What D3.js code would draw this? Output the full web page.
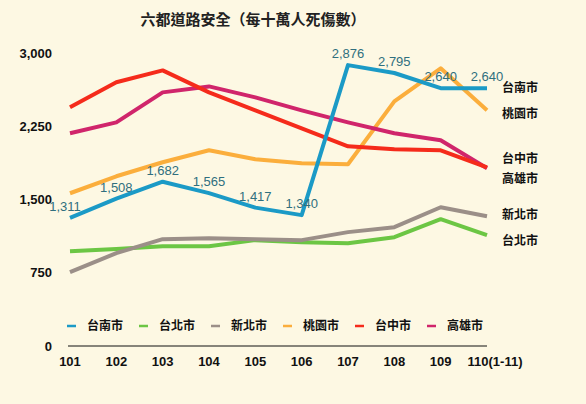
<!DOCTYPE html>
<html><head><meta charset="utf-8">
<script src="https://cdn.jsdelivr.net/npm/d3@7.9.0/dist/d3.min.js"></script>
<style>
body{margin:0;background:#fdf8e3;}
text{font-family:"Noto Sans CJK TC","Noto Sans",sans-serif;}
text.num{font-family:"Liberation Sans",Arial,sans-serif;}
</style></head><body>
<div id="chart"></div>
<script>
const years = ["101","102","103","104","105","106","107","108","109","110(1-11)"];
const tainan = [1311,1508,1682,1565,1417,1340,2876,2795,2640,2640];
const taipei = [971,992,1022,1022,1084,1063,1053,1114,1299,1135];
const newTaipei = [757,951,1094,1104,1094,1084,1166,1217,1421,1329];
const taoyuan = [1564,1738,1881,2004,1912,1871,1861,2505,2843,2413];
const taichung = [2444,2700,2822,2597,2413,2229,2045,2014,2004,1830];
const kaohsiung = [2178,2290,2597,2658,2546,2413,2290,2178,2106,1820];
const yTicks = [0,750,1500,2250,3000];

const series = [
  {name:"台南市", values:tainan, color:"#1b9ac6", labelY:2640},
  {name:"台北市", values:taipei, color:"#6cc644", labelY:1080},
  {name:"新北市", values:newTaipei, color:"#9b8f88", labelY:1340},
  {name:"桃園市", values:taoyuan, color:"#fbae3c", labelY:2380},
  {name:"台中市", values:taichung, color:"#f52b1b", labelY:1920},
  {name:"高雄市", values:kaohsiung, color:"#d0256b", labelY:1710}
];

const W = 586, H = 404;
const svg = d3.select("#chart").append("svg").attr("width", W).attr("height", H);
svg.append("rect").attr("width", W).attr("height", H).attr("fill", "#fdf8e3");

const x = d3.scalePoint().domain(years).range([70, 487]);
const y = d3.scaleLinear().domain([0, 3000]).range([346, 53]);

// title
svg.append("text").attr("x", 253).attr("y", 25).attr("text-anchor", "middle")
  .style("font-size", "15px").style("font-weight", "bold").attr("fill", "#222")
  .text("六都道路安全（每十萬人死傷數）");

// y tick labels
svg.selectAll(".ytick").data(yTicks).join("text").attr("class", "num")
  .attr("x", 52).attr("y", d => y(d)).attr("dy", "0.35em")
  .attr("text-anchor", "end").style("font-size", "13px").style("font-weight", "bold")
  .attr("fill", "#111").text(d => d3.format(",")(d));

// baseline
svg.append("line").attr("x1", 68).attr("x2", 487).attr("y1", y(0)).attr("y2", y(0))
  .attr("stroke", "#111").attr("stroke-width", 1);

// x labels
svg.selectAll(".xtick").data(years).join("text").attr("class", "num")
  .attr("x", d => x(d) + (d.length > 3 ? 8 : 0)).attr("y", 366)
  .attr("text-anchor", "middle").style("font-size", "13px").style("font-weight", "bold")
  .attr("fill", "#111").text(d => d);

const line = d3.line().x((d, i) => x(years[i])).y(d => y(d));

// lines, drawn back to front
[1, 2, 3, 5, 4, 0].forEach(k => {
  const s = series[k];
  svg.append("path").datum(s.values).attr("d", line)
    .attr("fill", "none").attr("stroke", s.color).attr("stroke-width", 4)
    .attr("stroke-linejoin", "round");
});

// data labels for 台南市
svg.selectAll(".dl").data(tainan).join("text").attr("class", "num")
  .attr("x", (d, i) => x(years[i]) + (i === 0 ? -5 : 0))
  .attr("y", (d, i) => y(d) - 7)
  .attr("text-anchor", "middle").style("font-size", "13px")
  .attr("fill", "#2f6f7e").text(d => d3.format(",")(d));

// right-side labels
svg.selectAll(".rl").data(series).join("text")
  .attr("x", 502).attr("y", d => y(d.labelY)).attr("dy", "0.35em")
  .style("font-size", "12px").style("font-weight", "bold").attr("fill", "#111")
  .text(d => d.name);

// legend
const lg = svg.selectAll(".lg").data(series).join("g")
  .attr("transform", (d, i) => `translate(${67 + i * 72},326)`);
lg.append("line").attr("x1", 0).attr("x2", 9).attr("stroke", d => d.color).attr("stroke-width", 2.5);
lg.append("text").attr("x", 20).attr("dy", "0.35em").style("font-size", "12px")
  .style("font-weight", "bold").attr("fill", "#111").text(d => d.name);
</script>
</body></html>
